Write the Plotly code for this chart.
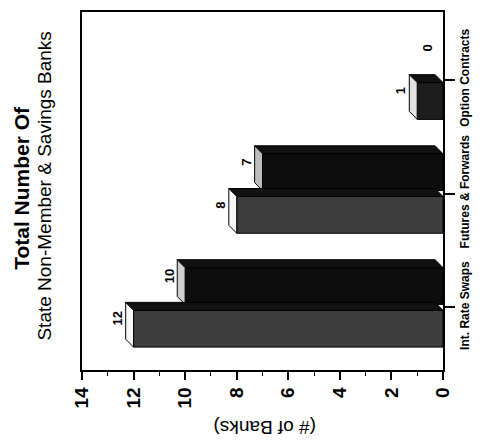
import plotly.graph_objects as go

# ---- data -------------------------------------------------------------
categories = ["Int. Rate Swaps", "Futures & Forwards", "Option Contracts"]
state_non_member = [12, 8, 1]      # lower bar of each pair
savings_banks = [10, 7, 0]         # upper bar of each pair
value_ticks = [0, 2, 4, 6, 8, 10, 12, 14]

# ---- geometry ---------------------------------------------------------
W, H = 482, 440
MARGIN = dict(l=82, r=34, t=10, b=70, pad=0)
X_RANGE = [14, 0]
Y_RANGE = [-0.55, 2.594]
plot_w = W - MARGIN["l"] - MARGIN["r"]
plot_h = H - MARGIN["t"] - MARGIN["b"]
px_x = plot_w / abs(X_RANGE[0] - X_RANGE[1])
px_y = plot_h / (Y_RANGE[1] - Y_RANGE[0])
DEPTH_X = 8 / px_x      # 3-D depth, in value units (drawn leftwards)
DEPTH_Y = 8 / px_y      # 3-D depth, in category units (drawn upwards)

BAR_W = 0.323
LOWER_OFF = -0.349
UPPER_OFF = 0.026

ypos = list(range(len(categories)))

lower_face = ["#3d3d3d", "#3d3d3d", "#1d1d1d"]
lower_cap = ["#f7f7f7", "#f7f7f7", "#e2e2e2"]
upper_face = ["#0d0d0d", "#0d0d0d", "#0d0d0d"]
upper_cap = ["#d0d0d0", "#bcbcbc", "#d0d0d0"]
STRIP = "#111111"

FONT = "Liberation Sans, Arial, sans-serif"

fig = go.Figure()


def outline(values):
    return [1 if v > 0 else 0 for v in values]


# front faces of the bars
fig.add_trace(go.Bar(
    y=ypos, x=state_non_member, orientation="h", name="State Non-Member",
    width=BAR_W, offset=LOWER_OFF,
    marker=dict(color=lower_face,
                line=dict(color="black", width=outline(state_non_member))),
    hoverinfo="skip"))
fig.add_trace(go.Bar(
    y=ypos, x=savings_banks, orientation="h", name="Savings Banks",
    width=BAR_W, offset=UPPER_OFF,
    marker=dict(color=upper_face,
                line=dict(color="black", width=outline(savings_banks))),
    hoverinfo="skip"))


def add_depth(values, offset, caps):
    for yc, v, cap in zip(ypos, values, caps):
        if v <= 0:
            continue
        a = yc + offset
        b = a + BAR_W
        # top side strip
        fig.add_trace(go.Scatter(
            x=[0, v, v + DEPTH_X, DEPTH_X, 0],
            y=[b, b, b + DEPTH_Y, b + DEPTH_Y, b],
            fill="toself", fillcolor=STRIP, mode="lines",
            line=dict(color="black", width=1), hoverinfo="skip"))
        # end cap
        fig.add_trace(go.Scatter(
            x=[v, v, v + DEPTH_X, v + DEPTH_X, v],
            y=[a, b, b + DEPTH_Y, a + DEPTH_Y, a],
            fill="toself", fillcolor=cap, mode="lines",
            line=dict(color="black", width=1), hoverinfo="skip"))


# back series first so the front series overlaps it
add_depth(savings_banks, UPPER_OFF, upper_cap)
add_depth(state_non_member, LOWER_OFF, lower_cap)

annotations = []
for values, offset in ((state_non_member, LOWER_OFF), (savings_banks, UPPER_OFF)):
    for yc, v in zip(ypos, values):
        annotations.append(dict(
            x=v + DEPTH_X, y=yc + offset + BAR_W / 2, xref="x", yref="y",
            text=str(v), showarrow=False, textangle=-90,
            xanchor="center", yanchor="middle", xshift=-8, yshift=10,
            font=dict(family=FONT, size=13, color="black", weight=700)))

# titles and value-axis caption
annotations += [
    dict(x=(20 - MARGIN["l"]) / plot_w, y=(370 - 187) / plot_h,
         xref="paper", yref="paper", text="Total Number Of",
         showarrow=False, textangle=-90, xanchor="center", yanchor="middle",
         font=dict(family=FONT, size=21, color="black", weight=700)),
    dict(x=(43 - MARGIN["l"]) / plot_w, y=(370 - 185) / plot_h,
         xref="paper", yref="paper", text="State Non-Member & Savings Banks",
         showarrow=False, textangle=-90, xanchor="center", yanchor="middle",
         font=dict(family=FONT, size=19, color="black")),
    dict(x=(267 - MARGIN["l"]) / plot_w, y=(370 - 428) / plot_h,
         xref="paper", yref="paper", text="(# of Banks)",
         showarrow=False, textangle=180, xanchor="center", yanchor="middle",
         font=dict(family=FONT, size=19, color="black")),
]

fig.update_layout(
    width=W, height=H, margin=MARGIN,
    paper_bgcolor="white", plot_bgcolor="white",
    showlegend=False, barmode="overlay",
    annotations=annotations,
    xaxis=dict(
        range=X_RANGE, tickvals=value_ticks, tickangle=-90,
        tickfont=dict(family=FONT, size=19, color="black", weight=700),
        ticks="outside", ticklen=8, tickwidth=1.5, tickcolor="black",
        minor=dict(dtick=1, ticks="outside", ticklen=4, tickwidth=1.2,
                   tickcolor="black"),
        showline=True, linecolor="black", linewidth=1.5, mirror=True,
        showgrid=False, zeroline=False, fixedrange=True),
    yaxis=dict(
        range=Y_RANGE, side="right", tickvals=ypos, ticktext=categories,
        tickangle=-90,
        tickfont=dict(family=FONT, size=12, color="black", weight=700),
        ticks="outside", ticklen=10, tickwidth=1.5, tickcolor="black",
        showline=True, linecolor="black", linewidth=1.5, mirror=True,
        showgrid=False, zeroline=False, fixedrange=True),
)

fig.write_html("out.html", config=dict(displayModeBar=False))
